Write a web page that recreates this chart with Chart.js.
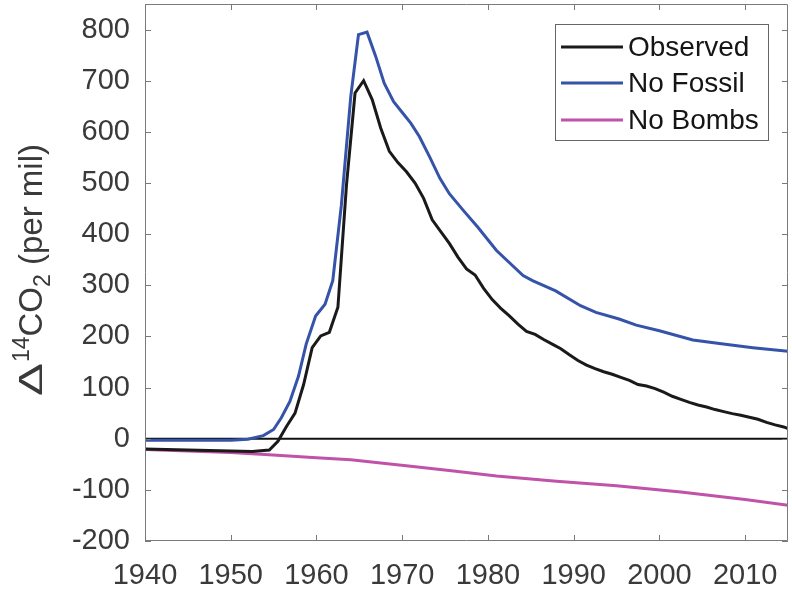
<!DOCTYPE html>
<html>
<head>
<meta charset="utf-8">
<script src="https://cdn.jsdelivr.net/npm/chart.js@4.4.0/dist/chart.umd.min.js"></script>
<style>
    body { margin: 0; background: #fff; }
    #wrap { width: 792px; height: 589px; }
</style>
</head>
<body>
<div id="wrap"><canvas id="c14Chart" width="792" height="589"></canvas></div>
<script>
// Delta14C of atmospheric CO2 (per mil)
const obsYears = [1940, 1945, 1950, 1952.5, 1954.5, 1955.5, 1956.5, 1957.5, 1958.5, 1959.5,
    1960.5, 1961.5, 1962.5, 1963.5, 1964.5, 1965.5, 1966.5, 1967.5, 1968.5, 1969.5,
    1970.5, 1971.5, 1972.5, 1973.5, 1974.5, 1975.5, 1976.5, 1977.5, 1978.5, 1979.5,
    1980.5, 1981.5, 1982.5, 1983.5, 1984.5, 1985.5, 1986.5, 1987.5, 1988.5, 1989.5,
    1990.5, 1991.5, 1992.5, 1993.5, 1994.5, 1995.5, 1996.5, 1997.5, 1998.5, 1999.5,
    2000.5, 2001.5, 2002.5, 2003.5, 2004.5, 2005.5, 2006.5, 2007.5, 2008.5, 2009.5,
    2010.5, 2011.5, 2012.5, 2013.5, 2014.5, 2015];
const obsValues = [-20, -22, -24, -25, -22, -5, 24, 50, 106, 178,
    201, 208, 257, 496, 676, 700, 663, 607, 562, 540,
    522, 500, 470, 428, 405, 382, 355, 332, 320, 294,
    272, 255, 240, 224, 210, 204, 194, 185, 176, 164,
    153, 144, 137, 131, 126, 120, 114, 106, 103, 98,
    91, 83, 77, 71, 66, 62, 57, 53, 49, 46,
    42, 38, 32, 27, 23, 20];

const noFossilYears = [1940, 1945, 1950, 1952, 1953.8, 1955, 1955.9, 1956.9, 1957.9, 1958.8,
    1959.9, 1961, 1961.9, 1962.9, 1964, 1964.9, 1965.9, 1966.9, 1967.9, 1969,
    1970.1, 1971, 1972, 1973.2, 1974.4, 1975.5, 1977.1, 1978.8, 1981, 1984.1,
    1985.2, 1987.9, 1990.8, 1992.6, 1995.3, 1997.3, 2000, 2003.9, 2007, 2010.9, 2015];
const noFossilValues = [-3, -3, -3, -1, 6, 18, 41, 73, 122, 185,
    240, 263, 309, 456, 669, 790, 795, 748, 695, 659,
    636, 617, 591, 551, 509, 479, 447, 414, 368, 319,
    309, 289, 260, 247, 234, 222, 211, 193, 186, 178, 171];

const noBombsYears = [1940, 1945, 1950, 1954, 1960, 1964, 1971, 1976, 1981, 1988, 1995, 2002.5, 2010, 2015];
const noBombsValues = [-21, -24, -27, -31, -37, -41, -54, -63, -73, -83, -92, -104, -119, -130];

const xTicks = [1940, 1950, 1960, 1970, 1980, 1990, 2000, 2010];
const yTicks = [-200, -100, 0, 100, 200, 300, 400, 500, 600, 700, 800];

const toPoints = (xs, ys) => xs.map((x, i) => ({ x: x, y: ys[i] }));

const FAMILY = '"Liberation Sans", Arial, sans-serif';
const TICK_FONT = { family: FAMILY, size: 29 };
const TEXT_GREY = '#3a3a3a';
const AXIS_GREY = '#7a7a7a';

// zero line, drawn under the curves
const zeroLine = {
    id: 'zeroLine',
    beforeDatasetsDraw(chart) {
        const { ctx, chartArea, scales } = chart;
        const y = scales.y.getPixelForValue(0);
        ctx.save();
        ctx.strokeStyle = '#111';
        ctx.lineWidth = 2;
        ctx.beginPath();
        ctx.moveTo(chartArea.left, y);
        ctx.lineTo(chartArea.right, y);
        ctx.stroke();
        ctx.restore();
    }
};

// matlab style box with inward ticks on all sides
const boxTicks = {
    id: 'boxTicks',
    afterDatasetsDraw(chart) {
        const { ctx, chartArea: a, scales } = chart;
        const len = 6;
        ctx.save();
        ctx.strokeStyle = AXIS_GREY;
        ctx.lineWidth = 1;
        ctx.beginPath();
        ctx.rect(a.left + 0.5, a.top + 0.5, a.right - a.left - 1, a.bottom - a.top - 1);
        xTicks.forEach(v => {
            const x = Math.round(scales.x.getPixelForValue(v)) + 0.5;
            ctx.moveTo(x, a.bottom); ctx.lineTo(x, a.bottom - len);
            ctx.moveTo(x, a.top); ctx.lineTo(x, a.top + len);
        });
        yTicks.forEach(v => {
            const y = Math.round(scales.y.getPixelForValue(v)) + 0.5;
            ctx.moveTo(a.left, y); ctx.lineTo(a.left + len, y);
            ctx.moveTo(a.right, y); ctx.lineTo(a.right - len, y);
        });
        ctx.stroke();
        ctx.restore();
    }
};

// legend box in the upper right corner
const boxLegend = {
    id: 'boxLegend',
    afterDraw(chart) {
        const { ctx } = chart;
        const left = 555, top = 24, w = 213, h = 116;
        const rows = [47, 83, 120];
        ctx.save();
        ctx.fillStyle = '#fff';
        ctx.fillRect(left, top, w, h);
        ctx.strokeStyle = '#666';
        ctx.lineWidth = 1;
        ctx.strokeRect(left + 0.5, top + 0.5, w, h);
        ctx.font = '28px ' + FAMILY;
        ctx.textBaseline = 'middle';
        chart.data.datasets.forEach((ds, i) => {
            ctx.strokeStyle = ds.borderColor;
            ctx.lineWidth = 3;
            ctx.beginPath();
            ctx.moveTo(561, rows[i]);
            ctx.lineTo(623, rows[i]);
            ctx.stroke();
            ctx.fillStyle = '#151515';
            ctx.fillText(ds.label, 628, rows[i] + 1);
        });
        ctx.restore();
    }
};

// rotated y title with super/subscripts
const yTitle = {
    id: 'yTitle',
    afterDraw(chart) {
        const { ctx } = chart;
        ctx.save();
        ctx.translate(42, 396);
        ctx.rotate(-Math.PI / 2);
        ctx.fillStyle = TEXT_GREY;
        ctx.textBaseline = 'alphabetic';
        let x = 0;
        // delta is drawn wide like the symbol font glyph
        ctx.font = '34px ' + FAMILY;
        ctx.save();
        ctx.scale(1.45, 1);
        ctx.fillText('\u0394', 0, 0);
        x += ctx.measureText('\u0394').width * 1.45 + 1;
        ctx.restore();
        ctx.font = '23px ' + FAMILY;
        ctx.fillText('14', x, -13);
        x += ctx.measureText('14').width;
        ctx.font = '33px ' + FAMILY;
        ctx.fillText('CO', x, 0);
        x += ctx.measureText('CO').width;
        ctx.font = '23px ' + FAMILY;
        ctx.fillText('2', x, 8);
        x += ctx.measureText('2').width;
        ctx.font = '33px ' + FAMILY;
        ctx.fillText(' (per mil)', x, 0);
        ctx.restore();
    }
};

function makeSeries(label, xs, ys, color) {
    return {
        label: label,
        data: toPoints(xs, ys),
        borderColor: color,
        backgroundColor: color,
        borderWidth: 3,
        pointRadius: 0,
        showLine: true,
        tension: 0,
        fill: false
    };
}

document.addEventListener('DOMContentLoaded', function() {
    const ctx = document.getElementById('c14Chart').getContext('2d');
    new Chart(ctx, {
        type: 'scatter',
        data: {
            datasets: [
                makeSeries('Observed', obsYears, obsValues, '#1a1a1a'),
                makeSeries('No Fossil', noFossilYears, noFossilValues, '#3553a8'),
                makeSeries('No Bombs', noBombsYears, noBombsValues, '#c052a9')
            ]
        },
        options: {
            responsive: false,
            animation: false,
            layout: { padding: { top: 4, right: 4, left: 0, bottom: 0 } },
            plugins: {
                legend: { display: false },
                tooltip: { enabled: false }
            },
            scales: {
                x: {
                    type: 'linear',
                    min: 1940,
                    max: 2015,
                    afterBuildTicks: scale => { scale.ticks = xTicks.map(v => ({ value: v })); },
                    afterFit: scale => {
                        scale.height = 48;
                        scale.paddingLeft = 0;
                        scale.paddingRight = 0;
                    },
                    grid: { display: false, drawTicks: false },
                    border: { display: false },
                    ticks: {
                        font: TICK_FONT,
                        color: TEXT_GREY,
                        padding: 18,
                        maxRotation: 0,
                        autoSkip: false,
                        callback: v => String(v)
                    }
                },
                y: {
                    type: 'linear',
                    min: -200,
                    max: 850,
                    afterBuildTicks: scale => { scale.ticks = yTicks.map(v => ({ value: v })); },
                    afterFit: scale => {
                        scale.width = 145;
                        scale.paddingTop = 0;
                        scale.paddingBottom = 0;
                    },
                    grid: { display: false, drawTicks: false },
                    border: { display: false },
                    ticks: {
                        font: TICK_FONT,
                        color: TEXT_GREY,
                        padding: 15,
                        autoSkip: false,
                        callback: v => String(v)
                    }
                }
            }
        },
        plugins: [zeroLine, boxTicks, boxLegend, yTitle]
    });
});
</script>
</body>
</html>
